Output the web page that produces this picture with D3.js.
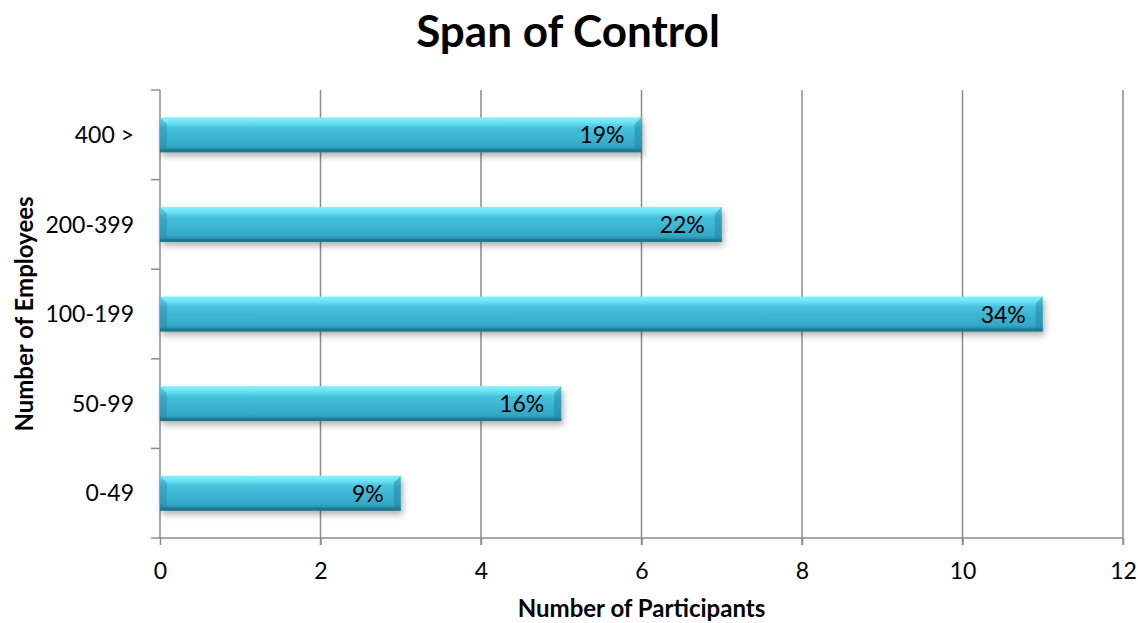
<!DOCTYPE html>
<html>
<head>
<meta charset="utf-8">
<script src="https://cdn.jsdelivr.net/npm/d3@7"></script>
<style>
	body { margin: 0; background: #fff; }
	svg { font-family: Lato, "Open Sans", sans-serif; }
</style>
</head>
<body>
<div id="chart"></div>
<script>
// chart data
var categories = ['0-49', '50-99', '100-199', '200-399', '400 >'];
var participants = [3, 5, 11, 7, 6];
var shares = ['9%', '16%', '34%', '22%', '19%'];
var xTicks = [0, 2, 4, 6, 8, 10, 12];

var width = 1138, height = 623;
var margin = { top: 90, right: 15, bottom: 85, left: 160 };
var innerW = width - margin.left - margin.right;
var innerH = height - margin.top - margin.bottom;

var svg = d3.select('#chart')
	.append('svg')
	.attr('width', width)
	.attr('height', height);

var defs = svg.append('defs');

var grad = defs.append('linearGradient')
	.attr('id', 'barFill')
	.attr('x1', 0).attr('y1', 0).attr('x2', 0).attr('y2', 1);
grad.append('stop').attr('offset', '0%').attr('stop-color', '#86f2fd');
grad.append('stop').attr('offset', '14%').attr('stop-color', '#6ce3f4');
grad.append('stop').attr('offset', '30%').attr('stop-color', '#45c1dd');
grad.append('stop').attr('offset', '82%').attr('stop-color', '#33a8c7');
grad.append('stop').attr('offset', '100%').attr('stop-color', '#207b96');

var shadow = defs.append('filter')
	.attr('id', 'barShadow')
	.attr('x', '-5%').attr('y', '-30%').attr('width', '110%').attr('height', '190%');
shadow.append('feDropShadow')
	.attr('dx', 2).attr('dy', 4)
	.attr('stdDeviation', 3)
	.attr('flood-color', '#000')
	.attr('flood-opacity', 0.3);

var g = svg.append('g')
	.attr('transform', 'translate(' + margin.left + ',' + margin.top + ')');

var x = d3.scaleLinear()
	.domain([0, 12])
	.range([0, innerW]);

var y = d3.scaleBand()
	.domain(categories.slice().reverse())
	.range([0, innerH])
	.paddingInner(0.61)
	.paddingOuter(0.305);

var yEdges = d3.scaleBand()
	.domain(categories.slice().reverse())
	.range([0, innerH]);

// vertical grid lines with tick marks below the axis
g.append('g')
	.selectAll('line')
	.data(xTicks.slice(1))
	.enter()
	.append('line')
	.attr('x1', function(d) { return x(d); })
	.attr('x2', function(d) { return x(d); })
	.attr('y1', 0)
	.attr('y2', innerH + 7)
	.attr('stroke', '#8c8c8c')
	.attr('stroke-width', 1.5);

// x axis
var xAxis = g.append('g')
	.attr('transform', 'translate(0,' + innerH + ')')
	.call(d3.axisBottom(x).tickValues(xTicks).tickSize(7).tickPadding(18));
xAxis.select('.domain').remove();
xAxis.selectAll('line').attr('stroke', '#8c8c8c').attr('stroke-width', 1.5);
xAxis.selectAll('text').attr('font-size', 23).attr('fill', '#000').attr('font-family', 'Lato, "Open Sans", sans-serif');

g.append('line')
	.attr('x1', -9).attr('x2', innerW)
	.attr('y1', innerH).attr('y2', innerH)
	.attr('stroke', '#8c8c8c')
	.attr('stroke-width', 1.5);

// y axis line and ticks at band edges
g.append('line')
	.attr('x1', 0).attr('x2', 0)
	.attr('y1', 0).attr('y2', innerH)
	.attr('stroke', '#8c8c8c')
	.attr('stroke-width', 1.5);

g.append('g')
	.selectAll('line')
	.data(categories.slice().reverse())
	.enter()
	.append('line')
	.attr('x1', -9).attr('x2', 0)
	.attr('y1', function(d) { return yEdges(d); })
	.attr('y2', function(d) { return yEdges(d); })
	.attr('stroke', '#8c8c8c')
	.attr('stroke-width', 1.5);

g.append('g')
	.selectAll('text')
	.data(categories)
	.enter()
	.append('text')
	.attr('x', -26)
	.attr('y', function(d) { return y(d) + y.bandwidth() / 2; })
	.attr('dy', '0.36em')
	.attr('text-anchor', 'end')
	.attr('font-size', 23)
	.text(function(d) { return d; });

// bars
var bars = g.append('g')
	.selectAll('g.bar')
	.data(categories)
	.enter()
	.append('g')
	.attr('class', 'bar');

bars.append('rect')
	.attr('x', 0)
	.attr('y', function(d) { return y(d); })
	.attr('width', function(d, i) { return x(participants[i]); })
	.attr('height', y.bandwidth())
	.attr('fill', 'url(#barFill)')
	.attr('filter', 'url(#barShadow)');

// bevel: darker bottom edge, shaded corners at both ends
bars.append('rect')
	.attr('x', 0)
	.attr('y', function(d) { return y(d) + y.bandwidth() - 3; })
	.attr('width', function(d, i) { return x(participants[i]); })
	.attr('height', 3)
	.attr('fill', '#1b6f86')
	.attr('opacity', 0.7);

var bevel = 7;
bars.append('path')
	.attr('d', function(d, i) {
		var x1 = x(participants[i]), y0 = y(d), h = y.bandwidth();
		return 'M' + x1 + ',' + y0 + 'L' + x1 + ',' + (y0 + h) +
			'L' + (x1 - bevel) + ',' + (y0 + h - bevel * 0.6) +
			'L' + (x1 - bevel) + ',' + (y0 + bevel) + 'Z';
	})
	.attr('fill', '#1f7e99')
	.attr('opacity', 0.45);

bars.append('path')
	.attr('d', function(d) {
		var y0 = y(d), h = y.bandwidth();
		return 'M0,' + y0 + 'L0,' + (y0 + h) +
			'L' + bevel + ',' + (y0 + h - bevel * 0.6) +
			'L' + bevel + ',' + (y0 + bevel) + 'Z';
	})
	.attr('fill', '#1f7e99')
	.attr('opacity', 0.35);

bars.append('text')
	.attr('x', function(d, i) { return x(participants[i]) - 17; })
	.attr('y', function(d) { return y(d) + y.bandwidth() / 2; })
	.attr('dy', '0.37em')
	.attr('text-anchor', 'end')
	.attr('font-size', 23)
	.attr('fill', '#000')
	.text(function(d, i) { return shares[i]; });

// titles
svg.append('text')
	.attr('x', 568)
	.attr('y', 47)
	.attr('text-anchor', 'middle')
	.attr('font-size', 44)
	.attr('font-weight', 'bold')
	.text('Span of Control');

svg.append('text')
	.attr('x', margin.left + innerW / 2)
	.attr('y', 617)
	.attr('text-anchor', 'middle')
	.attr('font-size', 24)
	.attr('font-weight', 'bold')
	.text('Number of Participants');

svg.append('text')
	.attr('transform', 'translate(33,' + (margin.top + innerH / 2) + ') rotate(-90)')
	.attr('text-anchor', 'middle')
	.attr('font-size', 24)
	.attr('font-weight', 'bold')
	.text('Number of Employees');
</script>
</body>
</html>
